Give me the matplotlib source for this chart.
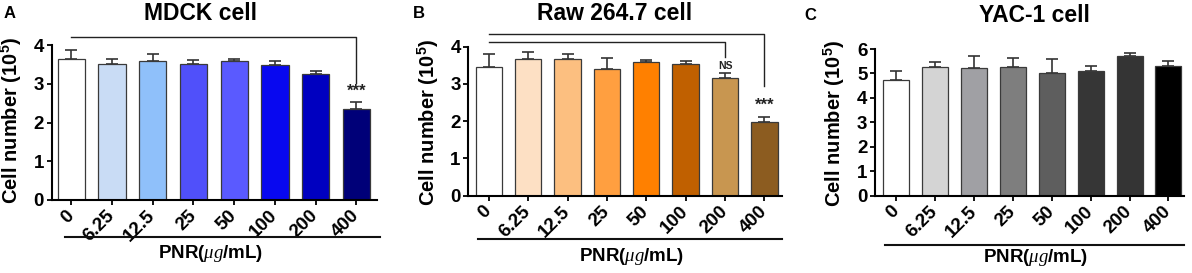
import matplotlib
matplotlib.use('Agg')
import matplotlib.pyplot as plt
from matplotlib.lines import Line2D

plt.rcParams['font.family'] = ['Liberation Sans', 'DejaVu Sans']
plt.rcParams['font.weight'] = 'bold'
plt.rcParams['mathtext.fontset'] = 'custom'
plt.rcParams['mathtext.rm'] = 'Liberation Sans:weight=bold'
plt.rcParams['mathtext.bf'] = 'Liberation Sans:weight=bold'
plt.rcParams['mathtext.it'] = 'Liberation Serif:style=italic:weight=normal'

# data (cell number, x10^5)
doses = ['0', '6.25', '12.5', '25', '50', '100', '200', '400']
mdck_mean = [3.64, 3.51, 3.60, 3.50, 3.59, 3.49, 3.26, 2.36]
mdck_err = [0.23, 0.13, 0.17, 0.11, 0.04, 0.11, 0.07, 0.18]
raw_mean = [3.46, 3.68, 3.66, 3.41, 3.60, 3.53, 3.15, 1.99]
raw_err = [0.34, 0.19, 0.15, 0.28, 0.05, 0.08, 0.14, 0.13]
yac_mean = [4.73, 5.25, 5.21, 5.28, 5.03, 5.11, 5.73, 5.32]
yac_err = [0.37, 0.21, 0.52, 0.36, 0.56, 0.19, 0.12, 0.20]

mdck_colors = ['#ffffff', '#c9dcf5', '#8fc0fa', '#5050fa', '#5a5aff', '#0808f0', '#0000c0', '#000078']
raw_colors = ['#ffffff', '#fde0c4', '#fcbf80', '#ff9f40', '#ff8000', '#c06000', '#c89650', '#8c5c20']
yac_colors = ['#ffffff', '#d4d4d4', '#a0a0a4', '#7e7e7e', '#5e5e5e', '#363636', '#343434', '#000000']

W, H = 1192, 273
fig = plt.figure(figsize=(W / 100, H / 100), dpi=100)


def fx(x):
    return x / W


def fy(y):
    return 1 - y / H


panels = [
    dict(letter='A', title='MDCK cell', mean=mdck_mean, err=mdck_err, colors=mdck_colors,
         box=(51.7, 45, 376.7, 200), xlim=(-0.48, 7.5), ylim=4,
         title_xy=(200.8, 13.3), letter_xy=(10, 13), ylab_xy=(11, 120),
         line=(65, 380, 237.3), xlab_xy=(210.8, 253)),
    dict(letter='B', title='Raw 264.7 cell', mean=raw_mean, err=raw_err, colors=raw_colors,
         box=(468.3, 46.7, 781.7, 195.7), xlim=(-0.52, 7.44), ylim=4,
         title_xy=(615, 13), letter_xy=(419, 13), ylab_xy=(428, 122),
         line=(478, 782, 239.3), xlab_xy=(631.7, 256.7)),
    dict(letter='C', title='YAC-1 cell', mean=yac_mean, err=yac_err, colors=yac_colors,
         box=(875, 49, 1184, 195.7), xlim=(-0.55, 7.4), ylim=6,
         title_xy=(1034.5, 15), letter_xy=(810, 15), ylab_xy=(834, 123),
         line=(885, 1183.7, 245), xlab_xy=(1036, 258)),
]

axes = []
for p in panels:
    x0, y0, x1, y1 = p['box']
    ax = fig.add_axes([fx(x0), fy(y1), (x1 - x0) / W, (y1 - y0) / H])
    xs = list(range(len(doses)))
    ax.bar(xs, p['mean'], width=0.67, color=p['colors'], edgecolor='#3a3a3a', linewidth=0.9, zorder=2)
    ax.errorbar(xs, p['mean'], yerr=[[0] * len(doses), p['err']], fmt='none',
                ecolor='#333333', elinewidth=1.2, capsize=4.3, capthick=1.2, zorder=1)
    ax.set_xlim(*p['xlim'])
    ax.set_ylim(0, p['ylim'])
    ax.set_yticks(range(0, p['ylim'] + 1))
    ax.set_xticks(xs)
    ax.set_xticklabels(doses, rotation=45, ha='right', va='center', rotation_mode='anchor')
    for s in ['top', 'right']:
        ax.spines[s].set_visible(False)
    for s in ['left', 'bottom']:
        ax.spines[s].set_linewidth(1.5)
    ax.tick_params(axis='both', labelsize=13.5, width=1.3, length=3.5, direction='out')
    ax.tick_params(axis='x', pad=6)
    ax.tick_params(axis='y', pad=2)

    fig.text(fx(p['title_xy'][0]), fy(p['title_xy'][1]), p['title'], ha='center', va='center',
             fontsize=16.5, fontweight='bold')
    fig.text(fx(p['letter_xy'][0]), fy(p['letter_xy'][1]), p['letter'], ha='center', va='center',
             fontsize=12, fontweight='bold')
    fig.text(fx(p['ylab_xy'][0]), fy(p['ylab_xy'][1]), r'Cell number (10$^{\mathbf{5}}$)',
             rotation=90, ha='center', va='center', fontsize=14.5, fontweight='bold')
    lx0, lx1, ly = p['line']
    fig.add_artist(Line2D([fx(lx0), fx(lx1)], [fy(ly), fy(ly)], color='#111111', linewidth=1.5))
    fig.text(fx(p['xlab_xy'][0]), fy(p['xlab_xy'][1]), r'PNR($\mathit{\mu g}$/mL)',
             ha='center', va='center', fontsize=13.5, fontweight='bold')
    axes.append(ax)

# significance brackets
axA, axB, axC = axes
axA.plot([0, 7, 7], [4.2, 4.2, 3.01], color='#222222', linewidth=1.0, clip_on=False)
axA.text(7, 2.8, '***', ha='center', va='center', fontsize=12, fontweight='bold', color='#222222')

axB.plot([0, 7, 7], [4.34, 4.34, 2.94], color='#222222', linewidth=1.0, clip_on=False)
axB.plot([0, 6, 6], [4.13, 4.13, 3.73], color='#222222', linewidth=1.0, clip_on=False)
axB.text(6, 3.49, 'NS', ha='center', va='center', fontsize=7.5, fontweight='bold', color='#222222')
axB.text(7, 2.42, '***', ha='center', va='center', fontsize=12, fontweight='bold', color='#222222')

fig.savefig('out.png', dpi=100)
